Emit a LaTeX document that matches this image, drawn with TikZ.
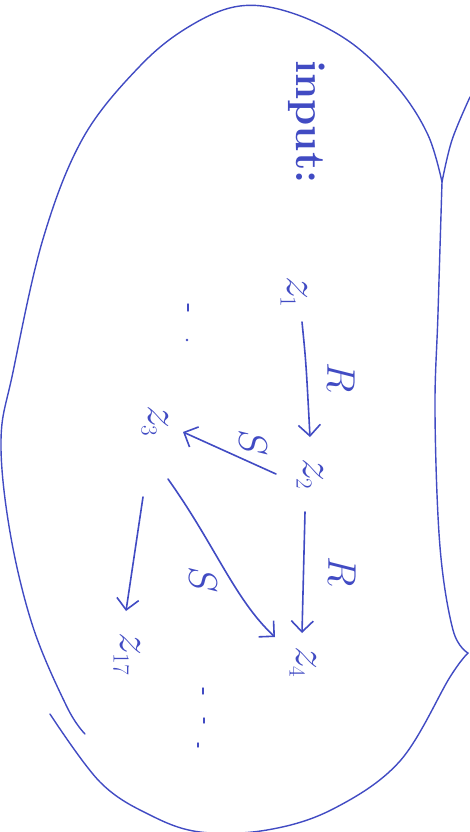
\RequirePackage{fix-cm}
\documentclass[tikz,border=0pt]{standalone}
\usetikzlibrary{arrows.meta}
\definecolor{ink}{RGB}{65,75,195}
\newcommand{\sub}[1]{_{\scriptscriptstyle #1}}
\begin{document}
\begin{tikzpicture}[x=1pt,y=-1pt,
  lbl/.style={text=ink, rotate=-90, inner sep=0pt, font=\fontsize{46}{50}\selectfont},
  edgelbl/.style={text=ink, rotate=-90, inner sep=0pt, font=\fontsize{40}{44}\selectfont},
  arr/.style={draw=ink, line width=1.6pt, line cap=round, -{Straight Barb[length=11pt,width=22pt,line width=1.6pt]}},
  pen/.style={draw=ink, line width=1.4pt, line cap=round, line join=round}]
\useasboundingbox (0,0) rectangle (469,832);
% outline
\draw[pen] plot[smooth, tension=0.6] coordinates {(85,734) (67,707) (33,627) (10,532) (1,440) (13,372) (43,239) (83,138) (140,66) (190,26) (240,6) (292,13) (350,42) (398,88) (428,135) (442,182)};
\draw[pen] plot[smooth, tension=0.6] coordinates {(442,182) (438,313) (435,413) (440,547) (453,630) (468,653)};
\draw[pen] plot[smooth, tension=0.6] coordinates {(468,653) (450,677) (400,761) (333,809) (267,830) (200,832) (150,815) (100,782) (50,714)};
\draw[pen] plot[smooth, tension=0.6] coordinates {(442,182) (452,140) (470,97)};
% texts
\node[text=ink, rotate=-90, inner sep=0pt, font=\fontsize{42}{46}\selectfont\bfseries] (inp) at (307,122) {input:};
\node[lbl] (z1) at (294,292) {$z\sub{1}$};
\node[lbl] (z2) at (310,474) {$z\sub{2}$};
\node[lbl] (z3) at (155,421) {$z\sub{3}$};
\node[lbl] (z4) at (303,662) {$z\sub{4}$};
\node[lbl] (z17) at (127,654) {$z\sub{17}$};
\node[edgelbl] (r1) at (341,378) {$R$};
\node[edgelbl] (r2) at (342,572) {$R$};
\node[edgelbl] (s1) at (253,443) {$S$};
\node[edgelbl] (s2) at (203,580) {$S$};
% connectors
\draw[arr] ([shift={(8,30)}]z1.center) .. controls ([shift={(12,70)}]z1.center) .. ([shift={(0,-37)}]z2.center);
\draw[arr] ([shift={(-5,38)}]z2.center) -- ([shift={(-1,-29)}]z4.center);
\draw[arr] ([shift={(-34,0)}]z2.center) -- ([shift={(28,11)}]z3.center);
\draw[arr] ([shift={(13,58)}]z3.center) .. controls ([shift={(60,124)}]z3.center) and ([shift={(-68,-62)}]z4.center) .. ([shift={(-28,-25)}]z4.center);
\draw[arr] ([shift={(-12,76)}]z3.center) -- ([shift={(-1,-43)}]z17.center);
% dots
\draw[pen] (188,304) -- (188,311);
\fill[ink] (187,340) circle (1.4);
\draw[pen] (203,688) -- (203,694);
\draw[pen] (204,718) -- (204,723);
\draw[pen] (198,743) -- (198,747);
\end{tikzpicture}
\end{document}
